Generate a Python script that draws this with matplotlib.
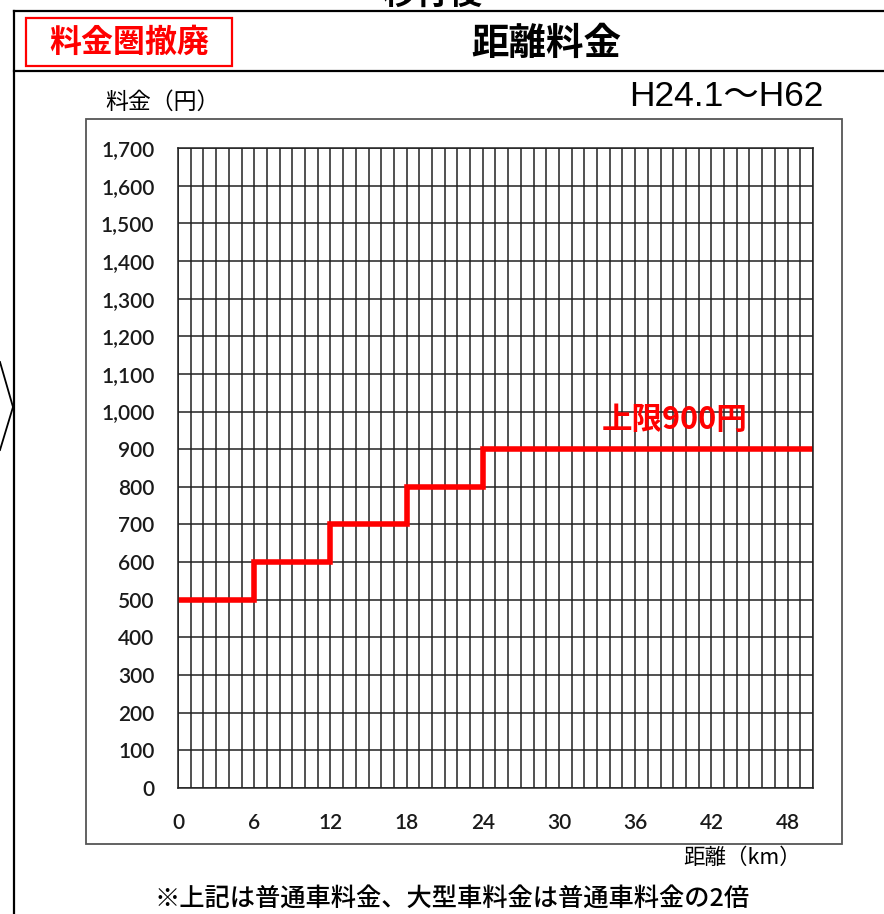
import matplotlib
matplotlib.use("Agg")
import matplotlib.pyplot as plt
from matplotlib.lines import Line2D
from matplotlib.patches import Rectangle
import numpy as np

plt.rcParams['font.family'] = ['Noto Sans CJK JP', 'DejaVu Sans']

# ---- data ----
distance_km = [0, 6, 12, 18, 24, 50]
fare_yen = [500, 600, 700, 800, 900, 900]
x_ticks = [0, 6, 12, 18, 24, 30, 36, 42, 48]
y_ticks = list(range(0, 1701, 100))
y_tick_labels = [f"{v:,}" for v in y_ticks]
title = "距離料金"
badge = "料金圏撤廃"
period = "H24.1～H62"
cap_label = "上限900円"
y_label = "料金（円）"
x_label = "距離（km）"
footnote = "※上記は普通車料金、大型車料金は普通車料金の2倍"
top_text = "移行後"

W, H = 884, 914
fig = plt.figure(figsize=(W / 100, H / 100), dpi=100)

def fx(p):
    return p / W

def fy(p):
    return 1 - p / H

# page frame lines
for (x0, y0, x1, y1) in [(14, 11, 884, 11), (14, 71, 884, 71), (14, 11, 14, 914)]:
    fig.add_artist(Line2D([fx(x0), fx(x1)], [fy(y0), fy(y1)], color='black', lw=1.6))
# arrow on the left
fig.add_artist(Line2D([fx(0), fx(13), fx(0)], [fy(362), fy(407), fy(450)], color='black', lw=1.3))

# top cropped text (cut off by the top edge, as in the reference)
fig.text(fx(432), fy(-6), top_text, ha='center', va='center', fontsize=24, fontweight='bold')

# badge
fig.add_artist(Rectangle((fx(26), fy(66)), fx(232) - fx(26), fy(18) - fy(66),
                         fill=False, edgecolor='#ff0000', lw=1.6))
fig.text(fx(129), fy(43), badge, ha='center', va='center', fontsize=23, color='#ff0000',
         fontweight='bold')
fig.text(fx(546), fy(43), title, ha='center', va='center', fontsize=27, fontweight='bold')

# chart area frame
fig.add_artist(Rectangle((fx(86), fy(844)), fx(842) - fx(86), fy(119) - fy(844),
                         fill=False, edgecolor='#555555', lw=1.3))

fig.text(fx(824), fy(96), period, ha='right', va='center', fontsize=25.5,
         family=['Liberation Sans', 'Noto Sans CJK JP'])
fig.text(fx(105), fy(102), y_label, ha='left', va='center', fontsize=16.5)
fig.text(fx(801), fy(858), x_label, ha='right', va='center', fontsize=15.5)
fig.text(fx(452), fy(899), footnote, ha='center', va='center', fontsize=18.2, fontweight='medium')

# axes
ax = fig.add_axes([fx(178), fy(788), fx(813) - fx(178), fy(148) - fy(788)])
ax.set_xlim(0, 50)
ax.set_ylim(0, 1700)
ax.set_xticks(x_ticks)
ax.set_xticks(np.arange(0, 51, 1), minor=True)
ax.set_yticks(y_ticks)
ax.set_yticklabels(y_tick_labels)
ax.grid(True, which='both', color='#222222', lw=1.1)
ax.set_axisbelow(True)
ax.tick_params(which='both', length=0)
ax.tick_params(axis='y', pad=17, labelsize=15, labelcolor='#1a1a1a')
ax.tick_params(axis='x', pad=18, labelsize=15, labelcolor='#1a1a1a')
for lab in ax.get_xticklabels() + ax.get_yticklabels():
    lab.set_family(['Lato', 'DejaVu Sans'])
    lab.set_fontweight('semibold')
for s in ax.spines.values():
    s.set_color('#222222')
    s.set_linewidth(1.1)

ax.step(distance_km, fare_yen, where='post', color='#ff0000', lw=4.0, solid_joinstyle='miter')
ax.text(39.1, 978, cap_label, ha='center', va='center', fontsize=22, color='#ff0000',
        fontweight='bold', family=['Noto Sans CJK JP', 'DejaVu Sans'])

fig.savefig("out.png", dpi=100)
